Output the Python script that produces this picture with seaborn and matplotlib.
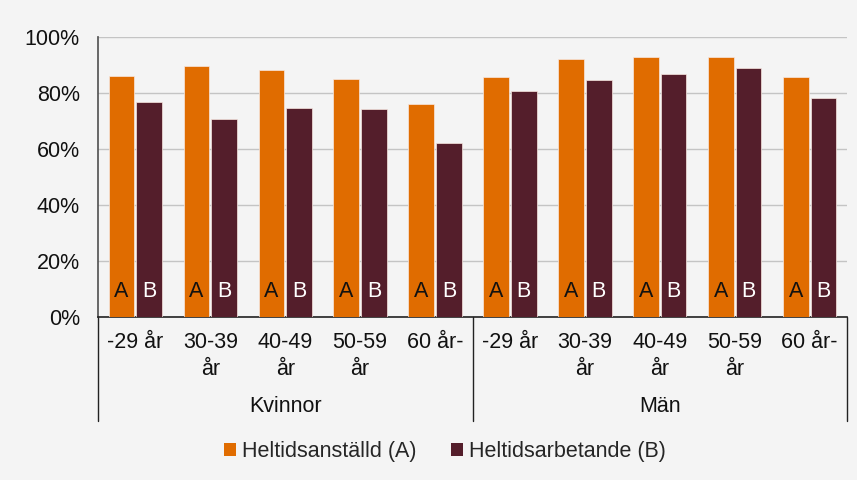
import matplotlib
matplotlib.use("Agg")
import matplotlib.pyplot as plt
import matplotlib.transforms as mtransforms
from matplotlib.patches import Patch
import seaborn as sns
import pandas as pd

# Data: share of full-time employed (A) vs full-time working (B), percent
groups = ["Kvinnor", "Män"]
age_labels = ["-29 år", "30-39\når", "40-49\når", "50-59\når", "60 år-"]
series_names = ["Heltidsanställd (A)", "Heltidsarbetande (B)"]
series_letters = ["A", "B"]
kvinnor_a = [86, 89.6, 88.3, 85, 76.2]
kvinnor_b = [76.7, 70.7, 74.5, 74.2, 62]
man_a = [85.7, 92, 93, 93, 85.7]
man_b = [80.8, 84.5, 86.8, 88.8, 78.3]

colors = ["#E06C00", "#541E2B"]
bg = "#F4F4F4"
FS = 15.5

rows = []
values = {("Kvinnor", 0): kvinnor_a, ("Kvinnor", 1): kvinnor_b,
          ("Män", 0): man_a, ("Män", 1): man_b}
order = []
for g in groups:
    for lab in age_labels:
        order.append(f"{g}|{lab}")
for g in groups:
    for s in range(2):
        for lab, v in zip(age_labels, values[(g, s)]):
            rows.append({"key": f"{g}|{lab}", "serie": series_names[s], "value": v})
df = pd.DataFrame(rows)

sns.set_theme(style="white")
plt.rcParams["font.family"] = ["Liberation Sans", "DejaVu Sans"]

fig = plt.figure(figsize=(8.57, 4.8), dpi=100, facecolor=bg)
ax = fig.add_axes([98 / 857, 1 - 317 / 480, (847 - 98) / 857, (317 - 37) / 480])
ax.set_facecolor(bg)

sns.barplot(data=df, x="key", y="value", hue="serie", order=order,
            hue_order=series_names, palette=colors, width=0.74, gap=0.07,
            saturation=1, edgecolor="#F8E8E0", linewidth=0.5, ax=ax, legend=False,
            errorbar=None, zorder=3)

ax.set_ylim(0, 100)
ax.set_xlim(-0.5, len(order) - 0.5)
ax.set_yticks(range(0, 101, 20))
ax.set_yticklabels([f"{t}%" for t in range(0, 101, 20)], fontsize=FS, color="#111111")
ax.yaxis.grid(True, color="#C4C4C4", linewidth=1, zorder=0)
ax.set_axisbelow(True)
ax.set_xlabel("")
ax.set_ylabel("")

ax.set_xticks(range(len(order)))
ax.set_xticklabels([k.split("|")[1] for k in order], fontsize=FS, color="#111111",
                   linespacing=1.36, va="top")
ax.tick_params(axis="x", length=0, pad=11)
ax.tick_params(axis="y", length=0, pad=13)

for side in ["top", "right"]:
    ax.spines[side].set_visible(False)
ax.spines["left"].set_color("#555555")
ax.spines["bottom"].set_color("#222222")
ax.spines["bottom"].set_linewidth(1.2)

# Letter markers inside each bar
for container, letter, tcol in zip(ax.containers, series_letters, ["#111111", "#FFFFFF"]):
    for bar in container:
        ax.text(bar.get_x() + bar.get_width() / 2, 9, letter, ha="center", va="center",
                fontsize=FS, color=tcol, zorder=4)

# Group separators and group labels below the axis
trans = mtransforms.blended_transform_factory(ax.transData, ax.transAxes)
depth = -(421 - 317) / 280
for xpos in [-0.5, 4.5, 9.5]:
    ax.plot([xpos, xpos], [0, depth], transform=trans, color="#222222",
            linewidth=1, clip_on=False)
for i, g in enumerate(groups):
    ax.text(i * 5 + 2, -(406 - 317) / 280, g, transform=trans, ha="center",
            va="center", fontsize=FS, color="#111111")

handles = [Patch(facecolor=c, edgecolor="none") for c in colors]
fig.legend(handles, series_names, loc="center", bbox_to_anchor=(445 / 857, 1 - 452 / 480),
           ncol=2, frameon=False, fontsize=FS, handlelength=0.55, handleheight=0.55,
           handletextpad=0.3, columnspacing=1.6)

fig.savefig("out.png", dpi=100, facecolor=bg)
